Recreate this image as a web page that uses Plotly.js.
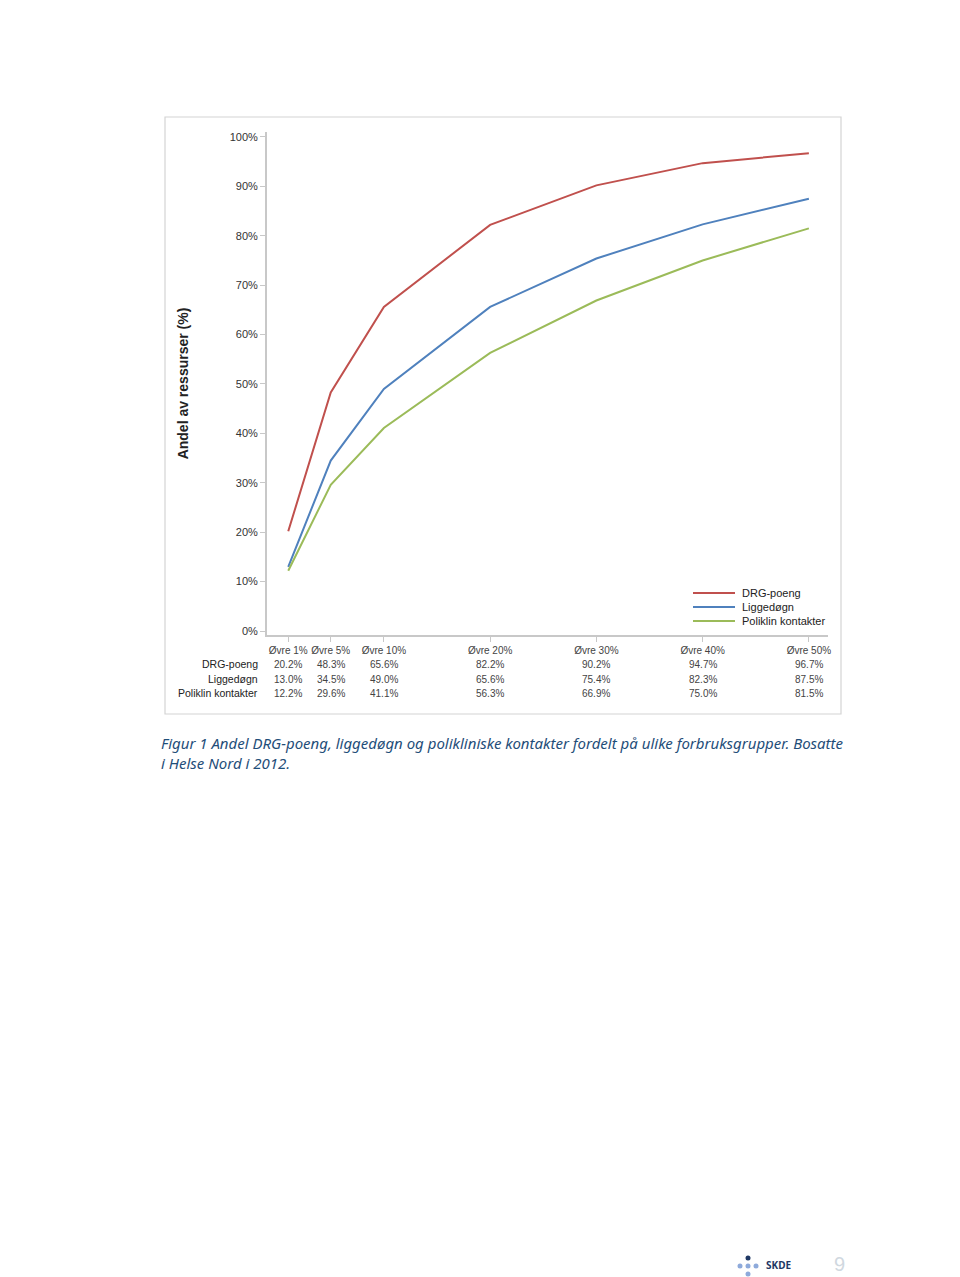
<!DOCTYPE html>
<html>
<head>
<meta charset="utf-8">
<script src="https://cdn.plot.ly/plotly-3.0.1.min.js"></script>
<style>
html,body{margin:0;padding:0;background:#fff;}
#chart{width:960px;height:1277px;}
</style>
</head>
<body>
<div id="chart"></div>
<script>
// ---- data ----
const groupPct = [1, 5, 10, 20, 30, 40, 50];
const tickLabels = ["Øvre 1%", "Øvre 5%", "Øvre 10%", "Øvre 20%", "Øvre 30%", "Øvre 40%", "Øvre 50%"];
const seriesNames = ["DRG-poeng", "Liggedøgn", "Poliklin kontakter"];
const drgPoeng = [20.2, 48.3, 65.6, 82.2, 90.2, 94.7, 96.7];
const liggedogn = [13.0, 34.5, 49.0, 65.6, 75.4, 82.3, 87.5];
const poliklin = [12.2, 29.6, 41.1, 56.3, 66.9, 75.0, 81.5];
const yTickVals = [0, 10, 20, 30, 40, 50, 60, 70, 80, 90, 100];
const captionLines = [
  "Figur 1 Andel DRG-poeng, liggedøgn og polikliniske kontakter fordelt på ulike forbruksgrupper. Bosatte",
  "i Helse Nord i 2012."
];

// ---- layout helpers (pixel -> paper) ----
const W = 960, H = 1277;
const mL = 267, mR = 960 - 828, mT = 132, mB = 1277 - 635;
const pw = W - mL - mR, ph = H - mT - mB;
const px = x => (x - mL) / pw;
const py = y => (H - mB - y) / ph;

const colors = ["#c0504d", "#4f81bd", "#9bbb59"];
const allSeries = [drgPoeng, liggedogn, poliklin];
const baseFont = "Liberation Sans, Arial";

const traces = allSeries.map((vals, i) => ({
  type: "scatter",
  mode: "lines",
  x: groupPct,
  y: vals,
  name: seriesNames[i],
  line: {color: colors[i], width: 2},
  showlegend: false
}));

const annotations = [];
const shapes = [
  {type: "rect", xref: "paper", yref: "paper", x0: px(165), x1: px(841), y0: py(714), y1: py(117),
   line: {color: "#d4d4d4", width: 1.2}, fillcolor: "rgba(0,0,0,0)", layer: "below"}
];

// data table below axis
const rowY = [664, 679, 693];
allSeries.forEach((vals, r) => {
  annotations.push({
    xref: "paper", yref: "paper", x: px(259.5), y: py(rowY[r]),
    xanchor: "right", yanchor: "middle", showarrow: false,
    text: seriesNames[r], font: {family: baseFont, size: 10.5, color: "#222"}
  });
  vals.forEach((v, c) => {
    annotations.push({
      xref: "x", yref: "paper", x: groupPct[c], y: py(rowY[r]),
      xanchor: "center", yanchor: "middle", showarrow: false,
      text: v.toFixed(1) + "%", font: {family: baseFont, size: 10, color: "#444"}
    });
  });
});

// legend (drawn manually for tight spacing)
const legY = [593, 607, 621];
seriesNames.forEach((n, i) => {
  shapes.push({type: "line", xref: "paper", yref: "paper",
    x0: px(693), x1: px(735), y0: py(legY[i]), y1: py(legY[i]),
    line: {color: colors[i], width: 2}});
  annotations.push({xref: "paper", yref: "paper", x: px(740), y: py(legY[i]),
    xanchor: "left", yanchor: "middle", showarrow: false, text: n,
    font: {family: baseFont, size: 11, color: "#222"}});
});

// caption (single block to keep line spacing consistent)
annotations.push({
  xref: "paper", yref: "paper", x: px(159), y: py(752.5),
  xanchor: "left", yanchor: "middle", align: "left", showarrow: false,
  text: captionLines.map(t => "<i>" + t + "</i>").join("<br>"),
  font: {family: "Noto Sans, DejaVu Sans", size: 15, color: "#1f4e79"}
});
// footer
annotations.push({
  xref: "paper", yref: "paper", x: px(764), y: py(1265), xanchor: "left", yanchor: "middle",
  showarrow: false, text: "<b>SKDE</b>", font: {family: "Noto Sans, DejaVu Sans", size: 10, color: "#1f3864"}
});
annotations.push({
  xref: "paper", yref: "paper", x: px(839), y: py(1264), xanchor: "center", yanchor: "middle",
  showarrow: false, text: "9", font: {family: "Liberation Sans Narrow, Liberation Sans", size: 20, color: "#d0d8e0"}
});

const dots = [[748, 1258, "#1f3864"], [740, 1266, "#8eaadb"], [748, 1266, "#8eaadb"], [756, 1266, "#8eaadb"], [748, 1274, "#8eaadb"]];
dots.forEach(d => {
  shapes.push({type: "circle", xref: "paper", yref: "paper",
    x0: px(d[0] - 2.5), x1: px(d[0] + 2.5), y0: py(d[1] + 2.5), y1: py(d[1] - 2.5),
    fillcolor: d[2], line: {width: 0}});
});

const layout = {
  width: W, height: H,
  margin: {l: mL, r: mR, t: mT, b: mB},
  paper_bgcolor: "#fff", plot_bgcolor: "#fff",
  showlegend: false,
  xaxis: {
    range: [-1, 51.8], tickvals: groupPct, ticktext: tickLabels, tickangle: 0,
    showgrid: false, zeroline: false, showline: true, linecolor: "#c8c8c8", linewidth: 2,
    ticks: "outside", ticklen: 5, tickcolor: "#c8c8c8",
    tickfont: {family: baseFont, size: 10, color: "#444"}
  },
  yaxis: {
    range: [-0.8, 101], tickvals: yTickVals, ticktext: yTickVals.map(v => v + "%"),
    showgrid: false, zeroline: false, showline: true, linecolor: "#c8c8c8", linewidth: 2,
    ticks: "outside", ticklen: 5, tickcolor: "#c8c8c8",
    tickfont: {family: baseFont, size: 11, color: "#333"},
    title: {text: "<b>Andel av ressurser (%)</b>", standoff: 38,
      font: {family: baseFont, size: 14, color: "#222"}}
  },
  annotations: annotations,
  shapes: shapes
};

Plotly.newPlot("chart", traces, layout, {displayModeBar: false, staticPlot: true});
</script>
</body>
</html>
